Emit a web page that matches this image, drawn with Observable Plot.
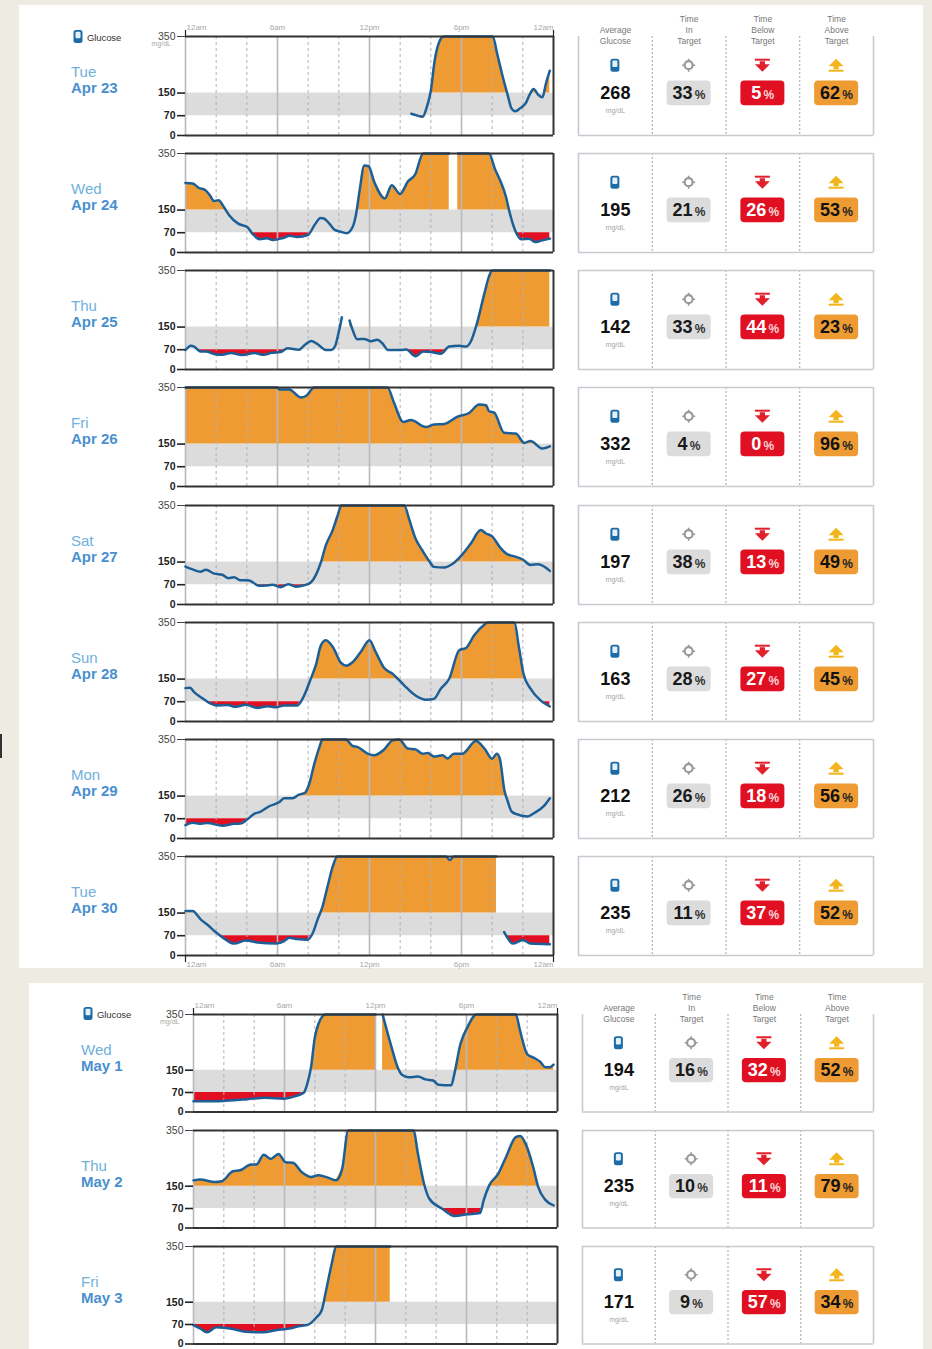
<!DOCTYPE html>
<html>
<head>
<meta charset="utf-8">
<script src="https://cdn.jsdelivr.net/npm/d3@7"></script>
<script src="https://cdn.jsdelivr.net/npm/@observablehq/plot@0.6"></script>
<style>
html,body{margin:0;padding:0;background:#eeebe3;}
#page{position:relative;width:932px;height:1349px;overflow:hidden;background:#eeebe3;font-family:"Liberation Sans",Arial,sans-serif;}
.card{position:absolute;background:#fff;}
.lbl{position:absolute;white-space:nowrap;line-height:1;}
svg.abs{position:absolute;overflow:visible;background:transparent;max-width:none;}
</style>
</head>
<body>
<div id="page"></div>
<script>
// ---------- DATA: [hour of day, glucose mg/dL], null marks a gap in the trace ----------
const apr23=[[14.73,77],[15.08,71],[15.47,66],[15.73,99],[16,158],[16.25,265],[16.5,324],[16.83,350],[20.04,350],[20.33,288],[20.67,212],[21.02,141],[21.25,97],[21.5,86],[21.84,97],[22.2,115],[22.47,147],[22.7,164],[23,144],[23.28,135],[23.5,182],[23.76,229]];
const apr24=[[0,246],[.46,244],[.88,228],[1.28,221],[1.58,203],[1.86,182],[2.16,185],[2.5,161],[2.86,131],[3.44,102],[4.03,90],[4.37,66],[4.84,47],[5.3,50],[5.7,44],[6.35,51],[6.8,59],[7.28,55],[7.98,62],[8.44,99],[8.8,122],[9.03,120],[9.38,102],[9.73,80],[10.08,74],[10.5,68],[10.9,90],[11.13,137],[11.36,221],[11.66,308],[11.94,305],[12.3,251],[13,191],[13.45,238],[14,207],[14.5,251],[14.97,275],[15.5,350],[17.2,350],[17.5,null],[17.76,350],[19.78,350],[20.2,293],[20.55,251],[20.9,197],[21.13,143],[21.5,78],[21.9,47],[22.4,49],[22.8,37],[23.2,42],[23.76,49]];
const apr25=[[0,69],[.35,84],[.57,81],[.96,64],[1.33,64],[1.87,55],[2.3,52],[2.96,58],[3.7,51],[4.5,58],[5.1,52],[5.6,59],[6.2,62],[6.65,75],[7.4,70],[7.7,83],[8.2,101],[8.6,90],[9.15,69],[9.5,69],[9.76,83],[10,134],[10.2,185],[10.45,null],[10.7,173],[10.9,140],[11.2,107],[11.65,108],[12.1,100],[12.5,105],[12.85,92],[13.2,69],[14.05,69],[14.4,71],[15,47],[15.5,64],[16,62],[16.65,56],[17.2,81],[17.85,84],[18.3,81],[18.6,98],[18.95,152],[19.5,270],[19.8,330],[20,350],[23.76,350]];
const apr26=[[0,350],[6,350],[6.1,343],[6.76,343],[7.52,315],[7.85,320],[8.4,350],[13.17,350],[13.6,296],[14.2,228],[14.7,235],[15.67,210],[16.2,219],[16.87,221],[17.74,247],[18.5,260],[19.15,290],[19.6,287],[19.8,266],[20.13,261],[20.78,190],[21.54,187],[22.1,154],[22.5,161],[23.28,134],[23.76,142]];
const apr27=[[0,134],[.46,124],[1,116],[1.33,123],[1.87,109],[2.4,105],[2.8,93],[3.17,96],[3.57,86],[4.15,85],[4.8,66],[5.24,67],[5.67,70],[6.2,61],[6.7,72],[7.2,63],[7.74,68],[8.17,78],[8.5,104],[8.83,149],[9.15,209],[9.6,263],[9.9,311],[10.17,350],[14.26,350],[14.6,299],[15,233],[15.45,191],[15.9,153],[16.2,133],[16.87,131],[17.4,143],[17.96,171],[18.6,215],[19.26,263],[19.6,251],[20,241],[20.5,203],[21,177],[21.4,171],[22,159],[22.5,140],[23,142],[23.76,119]];
const apr28=[[0,118],[.3,119],[.56,104],[1,86],[1.54,66],[2,57],[2.74,58],[3.28,52],[3.93,59],[4.7,48],[5.35,54],[5.9,50],[6.43,57],[7.3,57],[7.63,80],[8.17,151],[8.5,199],[8.83,269],[9.15,287],[9.6,264],[10.13,208],[10.5,197],[10.9,210],[11.43,246],[12,287],[12.4,246],[12.96,189],[13.5,169],[14.26,128],[15,92],[15.7,77],[16.2,80],[16.65,116],[17.2,151],[17.85,252],[18.3,260],[18.83,305],[19.5,343],[19.7,350],[21.43,350],[21.76,258],[22.04,169],[22.5,116],[23.17,74],[23.76,53]];
const apr29=[[0,47],[.46,56],[1,52],[1.43,55],[2.4,45],[3.17,52],[3.6,53],[4.04,68],[4.48,87],[4.9,95],[5.46,114],[6.1,128],[6.43,142],[6.98,142],[7.4,155],[7.8,162],[8.07,193],[8.4,264],[8.74,324],[8.93,350],[10.46,350],[10.9,327],[11.2,324],[11.87,300],[12.3,294],[12.96,315],[13.5,347],[13.93,350],[14.5,318],[15,315],[15.46,300],[15.8,302],[16.2,290],[16.76,294],[17.1,283],[17.5,300],[18.07,300],[18.93,345],[19.5,318],[20,282],[20.3,300],[20.5,282],[20.8,170],[21,134],[21.26,96],[21.54,87],[22.3,78],[22.74,90],[23.4,116],[23.76,142]];
const apr30=[[0,157],[.46,157],[1,127],[1.43,109],[2,81],[2.6,57],[3.17,42],[3.93,53],[4.7,46],[5.9,42],[6.43,51],[6.76,63],[7.3,58],[7.96,56],[8.28,77],[8.6,125],[8.93,172],[9.26,243],[9.6,314],[9.9,350],[16.98,350],[17.24,338],[17.5,350],[20.28,350],[20.5,null],[20.78,83],[21,63],[21.33,42],[22,55],[22.5,42],[23.76,40]];
const may1=[[0,39],[1.63,39],[2.6,42],[3.55,46],[4.75,51],[5.95,48],[6.67,56],[7.27,69],[7.5,101],[7.75,161],[8,268],[8.23,315],[8.7,350],[12,350],[12.2,null],[12.47,350],[13,244],[13.5,155],[13.74,134],[14.2,125],[14.8,127],[15.3,117],[15.8,113],[16.14,98],[17,96],[17.2,137],[17.6,244],[18.05,303],[18.66,350],[21.25,350],[21.53,292],[22,208],[22.5,193],[22.84,181],[23.2,161],[23.5,161],[23.74,170]];
const may2=[[0,171],[.43,174],[1.4,165],[1.87,168],[2.6,204],[3.07,207],[3.8,228],[4.15,228],[4.63,263],[5.1,248],[5.6,266],[6.08,236],[6.55,234],[7.15,200],[7.75,183],[8.23,189],[8.95,179],[9.4,171],[9.8,212],[10.2,350],[14.5,350],[14.8,266],[15.2,159],[15.55,105],[16.4,69],[17.2,43],[18.05,49],[18.9,54],[19.13,99],[19.5,153],[20.1,195],[20.6,254],[21.25,326],[21.54,330],[21.9,302],[22.4,218],[22.73,147],[23.2,101],[23.74,81]];
const may3=[[0,68],[.43,56],[.9,42],[1.5,60],[2.6,54],[3.43,44],[4.5,42],[5.7,52],[6.4,56],[6.9,64],[7.5,68],[8.1,95],[8.46,122],[8.7,181],[9.07,277],[9.43,350],[12.97,350]];

const series=[apr23,apr24,apr25,apr26,apr27,apr28,apr29,apr30,may1,may2,may3];
const weekdays=["Tue","Wed","Thu","Fri","Sat","Sun","Mon","Tue","Wed","Thu","Fri"];
const dates=["Apr 23","Apr 24","Apr 25","Apr 26","Apr 27","Apr 28","Apr 29","Apr 30","May 1","May 2","May 3"];
const averageGlucose=[268,195,142,332,197,163,212,235,194,235,171];
const timeInTarget=[33,21,33,4,38,28,26,11,16,10,9];
const timeBelowTarget=[5,26,44,0,13,27,18,37,32,11,57];
const timeAboveTarget=[62,53,23,96,49,45,56,52,52,79,34];
const yTicksBold=[150,70,0];
const yTicksLight=[350];
const hourTicksMajor=[0,6,12,18];
const hourTicksMinor=[2,4,8,10,14,16,20,22];
const hourLabels=[[0,"12am"],[6,"6am"],[12,"12pm"],[18,"6pm"],[24,"12am"]];
const low=70, high=150, maxG=350;

// ---------- STYLE / LAYOUT ----------
const FONT='"Liberation Sans",Arial,sans-serif';
const C={orange:"#ee9b33",red:"#e01022",band:"#dcdcdc",line:"#1c5f97",frame:"#333",grid:"#b8b8c0",dash:"#b0b0bc",box:"#c9c9d1"};
const cards=[
 {rows:[0,1,2,3,4,5,6,7],rect:[19,5,904,963],top:36,step:117.14,h:99,chartX:[184.5,552.5],boxX:[578,873],labelX:71,legendX:73,legendY:30},
 {rows:[8,9,10],rect:[29,983,894,366],top:1014,step:116,h:97.5,chartX:[193,557],boxX:[582,873],labelX:81,legendX:83,legendY:1007}
];
const page=document.getElementById("page");
function div(cls,css,text){const d=document.createElement("div");d.className=cls;d.style.cssText=css;if(text!=null)d.textContent=text;page.appendChild(d);return d;}
function place(svg,left,top){svg.classList.add("abs");svg.style.left=left+"px";svg.style.top=top+"px";page.appendChild(svg);}

// Adds points where the trace crosses a threshold so the fills meet the band edges exactly.
function fillPoints(rows){
  const out=[];
  rows.forEach((r,i)=>{
    const p=rows[i-1];
    if(p&&p[1]!=null&&r[1]!=null){
      const ts=r[1]>p[1]?[low,high]:[high,low];
      for(const t of ts) if((p[1]-t)*(r[1]-t)<0) out.push([p[0]+(t-p[1])/(r[1]-p[1])*(r[0]-p[0]),t]);
    }
    out.push(r);
  });
  return out;
}
const val=d=>d[1]==null?NaN:d[1];

function chart(rowIndex,card,opts){
  const top=card.top+card.step*(rowIndex-card.rows[0]);
  const [x0,x1]=card.chartX;
  const left=x0-44, mT=20, mB=16, mR=3;
  const rows=series[rowIndex], fp=fillPoints(rows);
  const marks=[
    Plot.rect([0],{x1:()=>0,x2:()=>24,y1:()=>low,y2:()=>high,fill:C.band}),
    Plot.areaY(fp,{x:d=>d[0],y1:()=>high,y2:d=>d[1]==null?NaN:Math.max(d[1],high),fill:C.orange}),
    Plot.areaY(fp,{x:d=>d[0],y1:()=>low,y2:d=>d[1]==null?NaN:Math.min(d[1],low),fill:C.red}),
    Plot.ruleX(hourTicksMinor,{stroke:C.dash,strokeWidth:1,strokeDasharray:"3,3"}),
    Plot.ruleX(hourTicksMajor,{stroke:C.grid,strokeWidth:1.6}),
    Plot.line(rows,{x:d=>d[0],y:val,stroke:C.line,strokeWidth:2.5,curve:"monotone-x",strokeLinejoin:"round",strokeLinecap:"round"}),
    Plot.ruleY([maxG,0],{stroke:C.frame,strokeWidth:2}),
    Plot.ruleX([24],{stroke:C.frame,strokeWidth:2}),
    Plot.axisY({ticks:yTicksBold,anchor:"left",tickSize:8,tickPadding:2,label:null,tickFormat:"d",fontSize:10.5,fontWeight:"bold",color:"#222",strokeWidth:1.6}),
    Plot.axisY({ticks:yTicksLight,anchor:"left",tickSize:8,tickPadding:2,label:null,tickFormat:"d",fontSize:10.5,color:"#444",strokeWidth:1})
  ];
  const hourAxis=(anchor,yVal,dy)=>{
    const common={y:()=>yVal,dy,fontSize:8,fill:"#a8a8a8",lineAnchor:"middle"};
    marks.push(
      Plot.text(hourLabels.slice(0,1),{...common,x:d=>d[0],text:d=>d[1],textAnchor:"start",dx:1}),
      Plot.text(hourLabels.slice(1,4),{...common,x:d=>d[0],text:d=>d[1]}),
      Plot.text(hourLabels.slice(4),{...common,x:d=>d[0],text:d=>d[1],textAnchor:"end"}),
      Plot.axisX({ticks:[0,24],anchor,tickSize:7,tickPadding:0,label:null,tickFormat:()=>"",color:"#222",strokeWidth:1.2})
    );
  };
  if(opts.topAxis) hourAxis("top",maxG,-9);
  if(opts.bottomAxis) hourAxis("bottom",0,9);
  const svg=Plot.plot({
    width:x1-left+mR,height:card.h+mT+mB,
    marginLeft:44,marginRight:mR,marginTop:mT,marginBottom:mB,
    x:{domain:[0,24],axis:null},y:{domain:[0,maxG],axis:null},
    style:{fontFamily:FONT,background:"transparent",overflow:"visible"},
    marks
  });
  place(svg,left,top-mT);
}

// ---------- ICONS as function marks positioned through the scales ----------
function icon(col,yVal,draw){
  return (index,{x,y})=>{
    const g=d3.create("svg:g").attr("transform",`translate(${x(col)},${y(yVal)})`);
    draw(g);return g.node();
  };
}
const drawMeter=g=>{
  g.append("rect").attr("x",-4.5).attr("y",-6.5).attr("width",9).attr("height",13).attr("rx",2.5).attr("fill","#1d6ca8");
  g.append("rect").attr("x",-2.5).attr("y",-4.8).attr("width",5).attr("height",6.5).attr("rx",1).attr("fill","#e4f0f8");
};
const drawTarget=g=>{
  g.append("circle").attr("r",4).attr("fill","none").attr("stroke","#999").attr("stroke-width",2.2);
  g.append("path").attr("d","M0-6.5V-3.5M0 3.5V6.5M-6.5 0H-3.5M3.5 0H6.5").attr("stroke","#999").attr("stroke-width",1.6);
};
const drawDown=g=>{
  g.append("rect").attr("x",-7.5).attr("y",-6.5).attr("width",15).attr("height",2).attr("fill","#e2202c");
  g.append("path").attr("d","M-2.6-4V-1H-7.5L0 6.5 7.5-1H2.6V-4Z").attr("fill","#e2202c");
};
const drawUp=g=>{
  g.append("rect").attr("x",-7.5).attr("y",4.5).attr("width",15).attr("height",2).attr("fill","#f2b61c");
  g.append("path").attr("d","M-2.6 4V1H-7.5L0-6.5 7.5 1H2.6V4Z").attr("fill","#f2b61c");
};

// ---------- STATS COLUMN ----------
const numW=n=>String(n).length*10;
function stats(rowIndex,card,first){
  const top=card.top+card.step*(rowIndex-card.rows[0]);
  const [b0,b1]=card.boxX;
  const mT=first?26:2,mB=2,mL=2,mR=2;
  const colW=(b1-b0)/4;
  const badgeHalf=22/colW;
  const yIcon=.705,yVal=.425,yUnit=.245,yBadgeLo=.3,yBadgeHi=.55;
  const cells=[
    {col:1.5,v:timeInTarget[rowIndex],bg:C.band,fg:"#1a1a1a",fg2:"#333",draw:drawTarget},
    {col:2.5,v:timeBelowTarget[rowIndex],bg:C.red,fg:"#fff",fg2:"#f6d5d5",draw:drawDown},
    {col:3.5,v:timeAboveTarget[rowIndex],bg:C.orange,fg:"#111",fg2:"#222",draw:drawUp}
  ];
  const marks=[
    Plot.ruleX([1,2,3],{stroke:"#a2a2a2",strokeWidth:1,strokeDasharray:"2,2"}),
    Plot.ruleX([0,4],{stroke:C.box,strokeWidth:1.6}),
    Plot.ruleY(first?[0]:[0,1],{stroke:C.box,strokeWidth:1.6}),
    icon(.5,yIcon,drawMeter),
    Plot.text([averageGlucose[rowIndex]],{x:()=>.5,y:()=>yVal,text:d=>String(d),fontSize:18,fontWeight:"bold",fill:"#111"}),
    Plot.text(["mg/dL"],{x:()=>.5,y:()=>yUnit,text:d=>d,fontSize:7,fill:"#a5a5a5"})
  ];
  for(const c of cells){
    const w=numW(c.v)+2+11, nEnd=-w/2+numW(c.v);
    marks.push(
      icon(c.col,yIcon,c.draw),
      Plot.rect([c],{x1:d=>d.col-badgeHalf,x2:d=>d.col+badgeHalf,y1:()=>yBadgeLo,y2:()=>yBadgeHi,fill:d=>d.bg,rx:4}),
      Plot.text([c],{x:d=>d.col,y:()=>yVal,text:d=>String(d.v),textAnchor:"end",dx:nEnd,fontSize:18,fontWeight:"bold",fill:d=>d.fg}),
      Plot.text([c],{x:d=>d.col,y:()=>yVal-.015,text:()=>"%",textAnchor:"start",dx:nEnd+2,fontSize:12,fontWeight:"bold",fill:d=>d.fg2})
    );
  }
  if(first){
    const heads=[[.5,"Average\nGlucose"],[1.5,"Time\nIn\nTarget"],[2.5,"Time\nBelow\nTarget"],[3.5,"Time\nAbove\nTarget"]];
    marks.push(Plot.text(heads,{x:d=>d[0],y:()=>1,text:d=>d[1],dy:7,lineAnchor:"bottom",lineHeight:1.27,fontSize:8.5,fill:"#777"}));
  }
  const svg=Plot.plot({
    width:b1-b0+mL+mR,height:card.h+mT+mB,
    marginLeft:mL,marginRight:mR,marginTop:mT,marginBottom:mB,
    x:{domain:[0,4],axis:null},y:{domain:[0,1],axis:null},
    color:{type:"identity"},
    style:{fontFamily:FONT,background:"transparent",overflow:"visible"},
    marks
  });
  place(svg,b0-mL,top-mT);
}

// ---------- BUILD ----------
div("", "position:absolute;left:0;top:734px;width:2px;height:24px;background:#333;");
for(const card of cards){
  const [x,y,w,h]=card.rect;
  div("card",`left:${x}px;top:${y}px;width:${w}px;height:${h}px;`);
}
for(const card of cards){
  const lg=d3.select(page).append("svg").attr("width",12).attr("height",15).attr("class","abs")
    .style("left",card.legendX-1+"px").style("top",card.legendY-1+"px");
  drawMeter(lg.append("g").attr("transform","translate(6,7.5)"));
  div("lbl",`left:${card.legendX+14}px;top:${card.legendY+3}px;font-size:9.5px;color:#333;letter-spacing:-.1px;`,"Glucose");
  div("lbl",`left:${card.chartX[0]-33}px;top:${card.top+4}px;font-size:7px;color:#aaa;`,"mg/dL");
  card.rows.forEach((r,i)=>{
    const top=card.top+card.step*i;
    div("lbl",`left:${card.labelX}px;top:${top+28}px;font-size:15px;color:#6fb0dc;`,weekdays[r]);
    div("lbl",`left:${card.labelX}px;top:${top+44}px;font-size:15px;font-weight:bold;color:#4a90cf;`,dates[r]);
    chart(r,card,{topAxis:i===0,bottomAxis:r===7});
    stats(r,card,i===0);
  });
}
</script>
</body>
</html>
